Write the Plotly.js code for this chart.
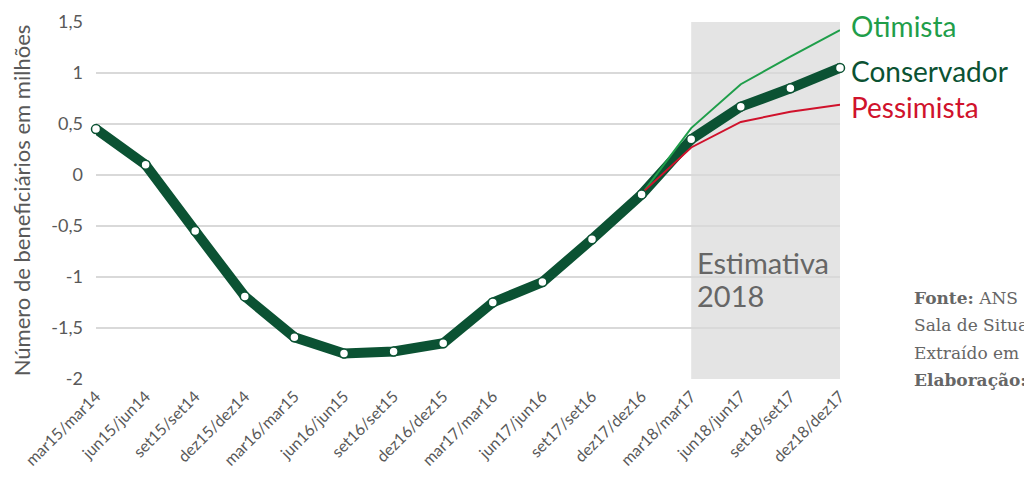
<!DOCTYPE html>
<html>
<head>
<meta charset="utf-8">
<script src="https://cdn.plot.ly/plotly-3.0.1.min.js"></script>
<style>
  html, body { margin: 0; padding: 0; background: #fff; }
  #chart { width: 1024px; height: 480px; }
</style>
</head>
<body>
<div id="chart"></div>
<script>
// periodos (trimestre atual / mesmo trimestre do ano anterior)
let periodos = ['mar15/mar14', 'jun15/jun14', 'set15/set14', 'dez15/dez14',
  'mar16/mar15', 'jun16/jun15', 'set16/set15', 'dez16/dez15',
  'mar17/mar16', 'jun17/jun16', 'set17/set16', 'dez17/dez16',
  'mar18/mar17', 'jun18/jun17', 'set18/set17', 'dez18/dez17'];

// variacao em milhoes de beneficiarios
let conservador = [0.45, 0.10, -0.55, -1.19, -1.59, -1.75, -1.73, -1.65,
  -1.25, -1.05, -0.63, -0.19, 0.35, 0.67, 0.85, 1.05];
let otimista = [null, null, null, null, null, null, null, null,
  null, null, null, -0.19, 0.46, 0.89, 1.16, 1.42];
let pessimista = [null, null, null, null, null, null, null, null,
  null, null, null, -0.18, 0.27, 0.52, 0.62, 0.69];

let yTicks = [1.5, 1, 0.5, 0, -0.5, -1, -1.5, -2];
let yTickText = ['1,5', '1', '0,5', '0', '-0,5', '-1', '-1,5', '-2'];

let verdeEscuro = '#0b5233';
let verde = '#1f9e4a';
let vermelho = '#d0122c';
let cinza = '#595959';
let fonte = 'Lato, "Open Sans", sans-serif';

let last = periodos.length - 1;

let traceCons = {
    x: periodos,
    y: conservador,
    mode: 'lines',
    type: 'scatter',
    hoverinfo: 'skip',
    cliponaxis: false,
    line: { color: verdeEscuro, width: 10 }
};
let traceOti = {
    x: periodos,
    y: otimista,
    mode: 'lines',
    type: 'scatter',
    hoverinfo: 'skip',
    cliponaxis: false,
    line: { color: verde, width: 2 }
};
let tracePes = {
    x: periodos,
    y: pessimista,
    mode: 'lines',
    type: 'scatter',
    hoverinfo: 'skip',
    cliponaxis: false,
    line: { color: vermelho, width: 2 }
};
// marcadores por cima das linhas finas
let traceMarks = {
    x: periodos,
    y: conservador,
    mode: 'markers',
    type: 'scatter',
    hoverinfo: 'skip',
    cliponaxis: false,
    marker: { size: 9, color: '#ffffff', line: { color: verdeEscuro, width: 1.5 } }
};

function rotulo(texto, valor, cor, dy) {
    return {
        x: last, y: valor, xref: 'x', yref: 'y',
        text: texto, showarrow: false,
        xanchor: 'left', yanchor: 'middle', xshift: 9, yshift: dy,
        font: { family: fonte, size: 28, color: cor }
    };
}

// rodape (coordenadas em fracao do papel)
function rodape(texto, yp) {
    return {
        x: 1.097, y: yp, xref: 'paper', yref: 'paper',
        text: texto, showarrow: false,
        xanchor: 'left', yanchor: 'middle', align: 'left',
        font: { family: '"DejaVu Serif", "Liberation Serif", serif', size: 17, color: '#666666' }
    };
}

function estimativa(texto, valor) {
    return {
        x: 12, y: valor, xref: 'x', yref: 'y',
        text: texto, showarrow: false,
        xanchor: 'left', yanchor: 'middle', xshift: 4,
        font: { family: fonte, size: 29, color: '#666666' }
    };
}

let layout = {
    width: 1024,
    height: 480,
    margin: { l: 96, r: 184, t: 22, b: 101 },
    paper_bgcolor: '#ffffff',
    plot_bgcolor: '#ffffff',
    showlegend: false,
    separators: ',.',
    font: { family: fonte, color: cinza },
    xaxis: {
        type: 'category',
        range: [0, last],
        showgrid: false,
        zeroline: false,
        showline: false,
        ticks: '',
        tickangle: -45,
        ticklabelstandoff: 4,
        tickfont: { family: fonte, size: 16, color: cinza }
    },
    yaxis: {
        range: [-2, 1.5],
        tickvals: yTicks,
        ticktext: yTickText,
        showgrid: true,
        gridcolor: '#d9d9d9',
        gridwidth: 1.3,
        zeroline: false,
        showline: false,
        ticks: '',
        ticklabelstandoff: 12,
        tickfont: { family: fonte, size: 18, color: cinza },
        title: {
            text: 'Número de beneficiários em milhões',
            font: { family: fonte, size: 22, color: cinza },
            standoff: 14
        }
    },
    shapes: [{
        type: 'rect', layer: 'below',
        xref: 'x', yref: 'y',
        x0: 12, x1: last, y0: -2, y1: 1.5,
        fillcolor: '#e4e4e4', line: { width: 0 }
    }],
    annotations: [
        rotulo('Otimista', otimista[last], verde, 4),
        rotulo('Conservador', conservador[last], verdeEscuro, -3),
        rotulo('Pessimista', pessimista[last], vermelho, -2),
        estimativa('Estimativa', -0.86),
        estimativa('2018', -1.18),
        rodape('<b>Fonte:</b> ANS', 0.228),
        rodape('Sala de Situação', 0.150),
        rodape('Extraído em', 0.072),
        rodape('<b>Elaboração:</b>', -0.004)
    ]
};

Plotly.newPlot('chart', [traceCons, traceOti, tracePes, traceMarks], layout, { displayModeBar: false, staticPlot: true });
</script>
</body>
</html>
